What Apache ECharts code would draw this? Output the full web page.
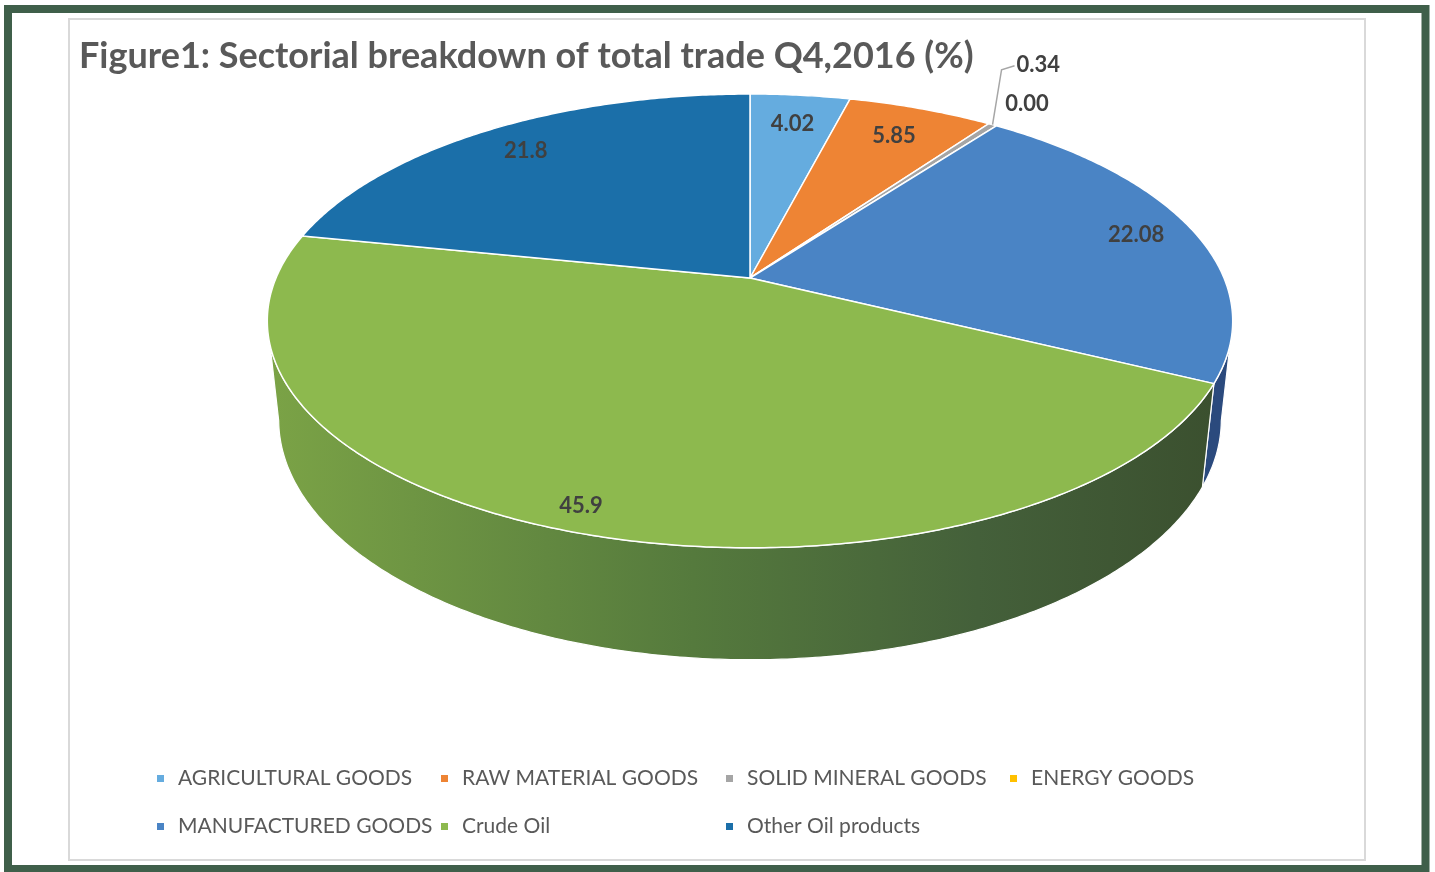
<!DOCTYPE html>
<html>
<head>
<meta charset="utf-8">
<script src="https://cdn.jsdelivr.net/npm/echarts@6/dist/echarts.min.js"></script>
<style>html,body{margin:0;padding:0;background:#fff;}#c{width:1435px;height:872px;}</style>
</head>
<body>
<div id="c"></div>
<script>
// ---- data ----
const categories = ['AGRICULTURAL GOODS', 'RAW MATERIAL GOODS', 'SOLID MINERAL GOODS', 'ENERGY GOODS',
  'MANUFACTURED GOODS', 'Crude Oil', 'Other Oil products'];
const values = [4.02, 5.85, 0.34, 0.00, 22.08, 45.9, 21.8];
const valueLabels = ['4.02', '5.85', '0.34', '0.00', '22.08', '45.9', '21.8'];
const titleText = 'Figure1: Sectorial breakdown of total trade Q4,2016 (%)';

// ---- styles ----
const topColors = ['#65acdf', '#ee8434', '#a5a5a5', '#ffc000', '#4a84c5', '#8db94e', '#1b6fa9'];
const sideColors = ['#3f77a3', '#b05a1e', '#7a7a7a', '#bf9000', '#2b4a7d', null, '#124e78'];
const labelRadius = [0.82, 0.82, 1, 1, 0.87, 0.92, 0.84];
const legendCols = [157, 441, 726, 1010];
const legendRows = [766, 814];
const FONT = 'Lato, "Open Sans", sans-serif';

// ---- 3D projection (perspective) ----
const CX = 750, CY = 278, F = 2223, L = 4.69;
const S = 0.4616, C = 0.887, T = 0.237;
function proj(theta, r, z) {
  const x = r * Math.sin(theta), y = r * Math.cos(theta);
  const depth = y * C - z * S + L;
  const up = y * S + z * C;
  return [CX + F * x / depth, CY - F * up / depth];
}
const visA = Math.acos(-C / L);            // right silhouette angle
const visB = 2 * Math.PI - visA;           // left silhouette angle

const total = values.reduce((a, b) => a + b, 0);
const starts = [];
let acc = 0;
values.forEach(v => { starts.push(acc); acc += v; });

function arcPts(a0, a1, r, z) {
  const n = Math.max(2, Math.ceil(Math.abs(a1 - a0) / 0.01));
  const pts = [];
  for (let i = 0; i <= n; i++) pts.push(proj(a0 + (a1 - a0) * i / n, r, z));
  return pts;
}

function renderSlice(params, api) {
  const idx = params.seriesIndex;
  const v = api.value(0), st = api.value(1);
  const a0 = st / total * 2 * Math.PI, a1 = (st + v) / total * 2 * Math.PI;
  const children = [];
  if (v > 0) {
    // side face
    const s0 = Math.max(a0, visA), s1 = Math.min(a1, visB);
    if (s1 > s0) {
      const top = arcPts(s0, s1, 1, 0);
      const bot = arcPts(s1, s0, 1, -T);
      let fill = sideColors[idx];
      if (idx === 5) {
        fill = new echarts.graphic.LinearGradient(0, 0, 1, 0, [
          { offset: 0, color: '#7ba346' },
          { offset: 0.45, color: '#557a3d' },
          { offset: 0.75, color: '#44603a' },
          { offset: 1, color: '#3b502f' }
        ]);
      }
      children.push({ type: 'polygon', shape: { points: top.concat(bot) },
        style: { fill: fill, stroke: '#ffffff', lineWidth: 1.2 }, z2: 1 });
    }
    // top face
    const pts = [proj(0, 0, 0)].concat(arcPts(a0, a1, 1, 0));
    children.push({ type: 'polygon', shape: { points: pts },
      style: { fill: topColors[idx], stroke: '#ffffff', lineWidth: 1.5 }, z2: 2 });
  }
  // label
  const mid = (a0 + a1) / 2;
  const lblFont = 'bold 22px ' + FONT;
  if (labelRadius[idx] < 1) {
    const p = proj(mid, labelRadius[idx], 0);
    children.push({ type: 'text', x: p[0], y: p[1], z2: 10,
      style: { text: valueLabels[idx], fill: '#404040', font: lblFont, align: 'center', verticalAlign: 'middle' } });
  } else {
    const e = proj(mid, 1, 0);
    if (idx === 2) {
      const elbow = [e[0] + 9, e[1] - 55];
      const end = [elbow[0] + 13, elbow[1] - 4];
      children.push({ type: 'polyline', z2: 9, shape: { points: [e, elbow, end] },
        style: { stroke: '#a6a6a6', lineWidth: 1.5, fill: null } });
      children.push({ type: 'text', x: end[0] + 2, y: end[1] - 1, z2: 10,
        style: { text: valueLabels[idx], fill: '#404040', font: lblFont, align: 'left', verticalAlign: 'middle' } });
    } else {
      children.push({ type: 'text', x: e[0] + 9, y: e[1] - 22, z2: 10,
        style: { text: valueLabels[idx], fill: '#404040', font: lblFont, align: 'left', verticalAlign: 'middle' } });
    }
  }
  return { type: 'group', children: children };
}

const series = categories.map((name, i) => ({
  type: 'custom', name: name, coordinateSystem: 'none',
  itemStyle: { color: topColors[i] },
  renderItem: renderSlice,
  data: [[values[i], starts[i]]],
  animation: false
}));

const legends = categories.map((name, i) => ({
  data: [name],
  left: legendCols[i < 4 ? i : (i === 4 ? 0 : i - 4)],
  top: legendRows[i < 4 ? 0 : 1],
  padding: 0,
  icon: 'rect', itemWidth: 7, itemHeight: 7,
  selectedMode: false,
  textStyle: { color: '#595959', fontSize: 21, fontFamily: FONT, padding: [1, 0, 0, 9], lineHeight: 24 }
}));

const chart = echarts.init(document.getElementById('c'), null, { renderer: 'canvas' });
chart.setOption({
  backgroundColor: '#ffffff',
  animation: false,
  title: { text: titleText, left: 79, top: 38, padding: 0,
    textStyle: { color: '#595959', fontSize: 36, fontWeight: 'bold', fontFamily: FONT } },
  legend: legends,
  graphic: [
    { type: 'rect', z: -10, shape: { x: 8, y: 9, width: 1417.5, height: 860 },
      style: { fill: 'none', stroke: '#3f5f4a', lineWidth: 8 } },
    { type: 'rect', z: -10, shape: { x: 69, y: 19, width: 1296, height: 841 },
      style: { fill: 'none', stroke: '#d9d9d9', lineWidth: 2 } }
  ],
  series: series
});
</script>
</body>
</html>
